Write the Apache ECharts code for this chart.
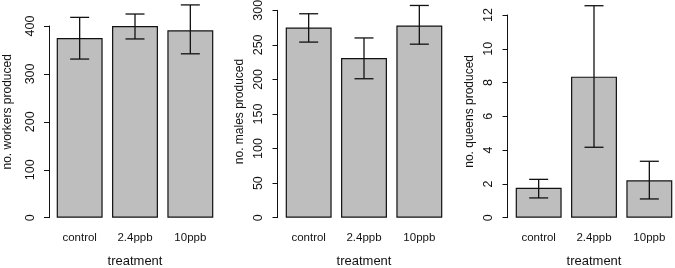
<!DOCTYPE html>
<html>
<head>
<meta charset="utf-8">
<script src="https://cdn.jsdelivr.net/npm/echarts@6/dist/echarts.min.js"></script>
<style>
  html, body { margin: 0; padding: 0; background: #fff; }
  #chart { width: 675px; height: 268px; }
</style>
</head>
<body>
<div id="chart"></div>
<script>
// treatments on the x axis
const categories = ['control', '2.4ppb', '10ppb'];

// workers produced: mean and error bar ends
const workers = [375, 400, 391];
const workersLow = [331, 373, 342];
const workersHigh = [418, 425, 444];

// males produced
const males = [275, 231, 278];
const malesLow = [254, 201, 251];
const malesHigh = [295, 260, 307];

// queens produced
const queens = [1.77, 8.35, 2.21];
const queensLow = [1.17, 4.17, 1.11];
const queensHigh = [2.27, 12.55, 3.34];

// y axis ranges (max, step)
const yMax = [400, 300, 12];
const yStep = [100, 50, 2];
const yNames = ['no. workers produced', 'no. males produced', 'no. queens produced'];

const FONT = 'Liberation Sans, Arial, sans-serif';

let chart = echarts.init(document.getElementById('chart'));

// layout per panel
const layout = [
    {left: 52, top: 26, height: 191.7, offset: 3, nameGap: 35, namePad: 20},
    {left: 281, top: 10.3, height: 207.4, offset: 3.5, nameGap: 31.5, namePad: 5},
    {left: 511, top: 15, height: 202.7, offset: 3.5, nameGap: 31.5, namePad: 10}
];

const means = [workers, males, queens];
const lows = [workersLow, malesLow, queensLow];
const highs = [workersHigh, malesHigh, queensHigh];

let grids = [], xAxes = [], yAxes = [], series = [];

for (let i = 0; i < 3; i++) {
    let l = layout[i];
    grids.push({
        left: l.left, top: l.top, width: 166, height: l.height,
        containLabel: false, outerBoundsMode: 'none'
    });
    xAxes.push({
        type: 'category',
        gridIndex: i,
        data: categories,
        axisLine: {show: false},
        axisTick: {show: false},
        axisLabel: {margin: 14, color: '#111', fontSize: 11.5, fontFamily: FONT},
        name: 'treatment',
        nameLocation: 'middle',
        nameGap: 37,
        nameTextStyle: {color: '#111', fontSize: 13, fontFamily: FONT}
    });
    yAxes.push({
        type: 'value',
        gridIndex: i,
        min: 0,
        max: yMax[i],
        interval: yStep[i],
        offset: l.offset,
        splitLine: {show: false},
        axisLine: {show: true, lineStyle: {color: '#111', width: 1}},
        axisTick: {show: true, length: 5, lineStyle: {color: '#111', width: 1}},
        axisLabel: {rotate: 90, margin: 12, color: '#111', fontSize: 12.5, fontFamily: FONT},
        name: yNames[i],
        nameLocation: 'middle',
        nameGap: l.nameGap,
        nameTextStyle: {color: '#111', fontSize: 12, fontFamily: FONT, padding: [0, 0, 0, l.namePad]}
    });
    series.push({
        type: 'bar',
        xAxisIndex: i,
        yAxisIndex: i,
        data: means[i],
        barCategoryGap: '17%',
        clip: false,
        itemStyle: {color: '#bebebe', borderColor: '#111', borderWidth: 1.2}
    });
    series.push({
        type: 'custom',
        xAxisIndex: i,
        yAxisIndex: i,
        clip: false,
        z: 5,
        data: categories.map(function (c, k) {
            return [k, lows[i][k], highs[i][k]];
        }),
        renderItem: function (params, api) {
            let lo = api.coord([api.value(0), api.value(1)]);
            let hi = api.coord([api.value(0), api.value(2)]);
            let w = 9.5;
            let style = {stroke: '#111', lineWidth: 1.3, fill: null};
            return {
                type: 'group',
                children: [
                    {type: 'line', shape: {x1: lo[0], y1: lo[1], x2: hi[0], y2: hi[1]}, style: style},
                    {type: 'line', shape: {x1: lo[0] - w, y1: lo[1], x2: lo[0] + w, y2: lo[1]}, style: style},
                    {type: 'line', shape: {x1: hi[0] - w, y1: hi[1], x2: hi[0] + w, y2: hi[1]}, style: style}
                ]
            };
        }
    });
}

chart.setOption({
    animation: false,
    grid: grids,
    xAxis: xAxes,
    yAxis: yAxes,
    series: series
});
</script>
</body>
</html>
